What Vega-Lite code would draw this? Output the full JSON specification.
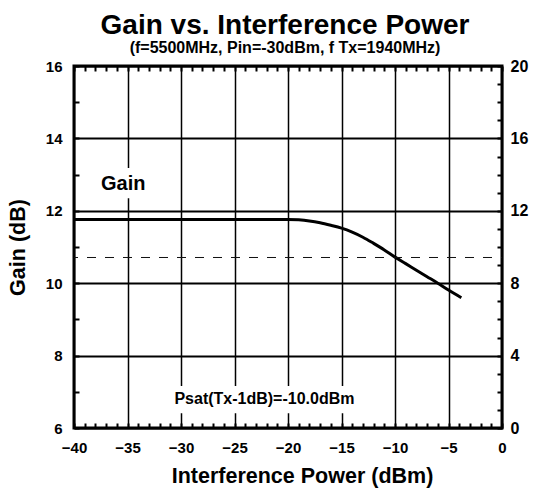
{
  "$schema": "https://vega.github.io/schema/vega-lite/v6.json",
  "width": 428,
  "height": 362,
  "autosize": "none",
  "padding": {"left": 74, "top": 66, "right": 34, "bottom": 65},
  "background": "white",
  "title": {
    "text": "Gain vs. Interference Power",
    "subtitle": "(f=5500MHz, Pin=-30dBm, f Tx=1940MHz)",
    "font": "Liberation Sans",
    "fontSize": 28,
    "fontWeight": "bold",
    "color": "black",
    "subtitleFont": "Liberation Sans",
    "subtitleFontSize": 16,
    "subtitleFontWeight": "bold",
    "subtitleColor": "black",
    "subtitlePadding": 0,
    "offset": 2,
    "dx": -3,
    "anchor": "middle"
  },
  "config": {
    "view": {"stroke": "black", "strokeWidth": 3},
    "font": "Liberation Sans"
  },
  "resolve": {
    "scale": {"y": "independent"},
    "axis": {"x": "independent", "y": "independent"}
  },
  "layer": [
    {
      "data": {"values": [{}]},
      "mark": {"type": "rect", "fill": "white"},
      "encoding": {
        "x": {"datum": -37.9, "type": "quantitative", "scale": {"domain": [-40, 0], "nice": false, "zero": false}, "axis": null},
        "x2": {"datum": -32.9},
        "y": {"datum": 13.18, "type": "quantitative", "scale": {"domain": [6, 16], "nice": false, "zero": false}, "axis": null},
        "y2": {"datum": 12.35}
      }
    },
    {
      "data": {
        "values": [
          {"power": -40, "gain": 11.76},
          {"power": -30, "gain": 11.76},
          {"power": -20, "gain": 11.76},
          {"power": -19, "gain": 11.75},
          {"power": -18, "gain": 11.72},
          {"power": -17, "gain": 11.67},
          {"power": -16, "gain": 11.6},
          {"power": -15, "gain": 11.52},
          {"power": -14, "gain": 11.41},
          {"power": -13, "gain": 11.27},
          {"power": -12, "gain": 11.1},
          {"power": -11, "gain": 10.92},
          {"power": -10, "gain": 10.72},
          {"power": -9, "gain": 10.54},
          {"power": -8, "gain": 10.36},
          {"power": -7, "gain": 10.18},
          {"power": -6, "gain": 10.0},
          {"power": -5, "gain": 9.81},
          {"power": -3.8, "gain": 9.6}
        ]
      },
      "mark": {"type": "line", "color": "black", "strokeWidth": 3, "interpolate": "monotone"},
      "encoding": {
        "x": {
          "field": "power",
          "type": "quantitative",
          "scale": {"domain": [-40, 0], "nice": false, "zero": false},
          "axis": {
            "orient": "bottom",
            "offset": -5,
            "domain": false,
            "title": "Interference Power (dBm)",
            "titleFont": "Liberation Sans",
            "titleFontSize": 21.5,
            "titleFontWeight": "bold",
            "titleColor": "black",
            "titlePadding": 10,
            "titleX": 228,
            "values": [-40,-39,-38,-37,-36,-35,-34,-33,-32,-31,-30,-29,-28,-27,-26,-25,-24,-23,-22,-21,-20,-19,-18,-17,-16,-15,-14,-13,-12,-11,-10,-9,-8,-7,-6,-5,-4,-3,-2,-1,0],
            "format": "d",
            "labelExpr": "datum.value % 5 === 0 ? datum.label : ''",
            "labelFont": "Liberation Sans",
            "labelFontSize": 15,
            "labelFontWeight": "bold",
            "labelColor": "black",
            "labelPadding": 12,
            "labelOverlap": false,
            "labelFlush": false,
            "ticks": true,
            "tickSize": 5,
            "tickWidth": 2,
            "tickColor": "black",
            "grid": true,
            "gridColor": "black",
            "gridWidth": 1.5,
            "gridOpacity": {"condition": {"test": "datum.value % 5 === 0", "value": 1}, "value": 0}
          }
        },
        "y": {
          "field": "gain",
          "type": "quantitative",
          "scale": {"domain": [6, 16], "nice": false, "zero": false},
          "axis": {
            "orient": "left",
            "offset": -5,
            "domain": false,
            "title": "Gain (dB)",
            "titleFont": "Liberation Sans",
            "titleFontSize": 21.5,
            "titleFontWeight": "bold",
            "titleColor": "black",
            "titlePadding": 16,
            "values": [6,6.5,7,7.5,8,8.5,9,9.5,10,10.5,11,11.5,12,12.5,13,13.5,14,14.5,15,15.5,16],
            "format": "d",
            "labelExpr": "datum.value % 2 === 0 ? datum.label : ''",
            "labelFont": "Liberation Sans",
            "labelFontSize": 15,
            "labelFontWeight": "bold",
            "labelColor": "black",
            "labelPadding": 12,
            "labelOverlap": false,
            "labelFlush": false,
            "ticks": true,
            "tickSize": 5,
            "tickWidth": 2,
            "tickColor": "black",
            "grid": true,
            "gridColor": "black",
            "gridWidth": 2,
            "gridOpacity": {"condition": {"test": "datum.value % 2 === 0", "value": 1}, "value": 0}
          }
        }
      }
    },
    {
      "data": {"values": [{}]},
      "mark": {"type": "rect", "fill": "white"},
      "encoding": {
        "x": {"datum": -31.2, "type": "quantitative", "scale": {"domain": [-40, 0], "nice": false, "zero": false}, "axis": null},
        "x2": {"datum": -13.3},
        "y": {"datum": 7.16, "type": "quantitative", "scale": {"domain": [6, 16], "nice": false, "zero": false}, "axis": null},
        "y2": {"datum": 6.41}
      }
    },
    {
      "data": {"values": [{}]},
      "mark": {"type": "rule", "color": "#111111", "strokeWidth": 1, "strokeDash": [9, 9], "strokeDashOffset": -10},
      "encoding": {
        "y": {"datum": 10.71, "type": "quantitative", "scale": {"domain": [6, 16], "nice": false, "zero": false}, "axis": null}
      }
    },
    {
      "data": {"values": [{}]},
      "mark": {"type": "text", "text": "Gain", "font": "Liberation Sans", "fontSize": 20, "fontWeight": "bold", "color": "black", "align": "center", "baseline": "middle"},
      "encoding": {
        "x": {"datum": -35.4, "type": "quantitative", "scale": {"domain": [-40, 0], "nice": false, "zero": false}, "axis": null},
        "y": {"datum": 12.74, "type": "quantitative", "scale": {"domain": [6, 16], "nice": false, "zero": false}, "axis": null}
      }
    },
    {
      "data": {"values": [{}]},
      "mark": {"type": "text", "text": "Psat(Tx-1dB)=-10.0dBm", "font": "Liberation Sans", "fontSize": 16, "fontWeight": "bold", "color": "black", "align": "center", "baseline": "middle"},
      "encoding": {
        "x": {
          "datum": -22.2,
          "type": "quantitative",
          "scale": {"domain": [-40, 0], "nice": false, "zero": false},
          "axis": {
            "orient": "top",
            "offset": -5,
            "domain": false,
            "title": null,
            "values": [-40,-39,-38,-37,-36,-35,-34,-33,-32,-31,-30,-29,-28,-27,-26,-25,-24,-23,-22,-21,-20,-19,-18,-17,-16,-15,-14,-13,-12,-11,-10,-9,-8,-7,-6,-5,-4,-3,-2,-1,0],
            "labels": false,
            "ticks": true,
            "tickSize": 5,
            "tickWidth": 2,
            "tickColor": "black",
            "grid": false
          }
        },
        "y": {
          "datum": 1.6,
          "type": "quantitative",
          "scale": {"domain": [0, 20], "nice": false, "zero": false},
          "axis": {
            "orient": "right",
            "offset": -5,
            "domain": false,
            "title": null,
            "values": [0,1,2,3,4,5,6,7,8,9,10,11,12,13,14,15,16,17,18,19,20],
            "format": "d",
            "labelExpr": "datum.value % 4 === 0 ? datum.label : ''",
            "labelFont": "Liberation Sans Narrow, Liberation Sans",
            "labelFontSize": 16,
            "labelFontWeight": "bold",
            "labelColor": "black",
            "labelPadding": 8,
            "labelOverlap": false,
            "labelFlush": false,
            "ticks": true,
            "tickSize": 5,
            "tickWidth": 2,
            "tickColor": "black",
            "grid": false
          }
        }
      }
    }
  ]
}
